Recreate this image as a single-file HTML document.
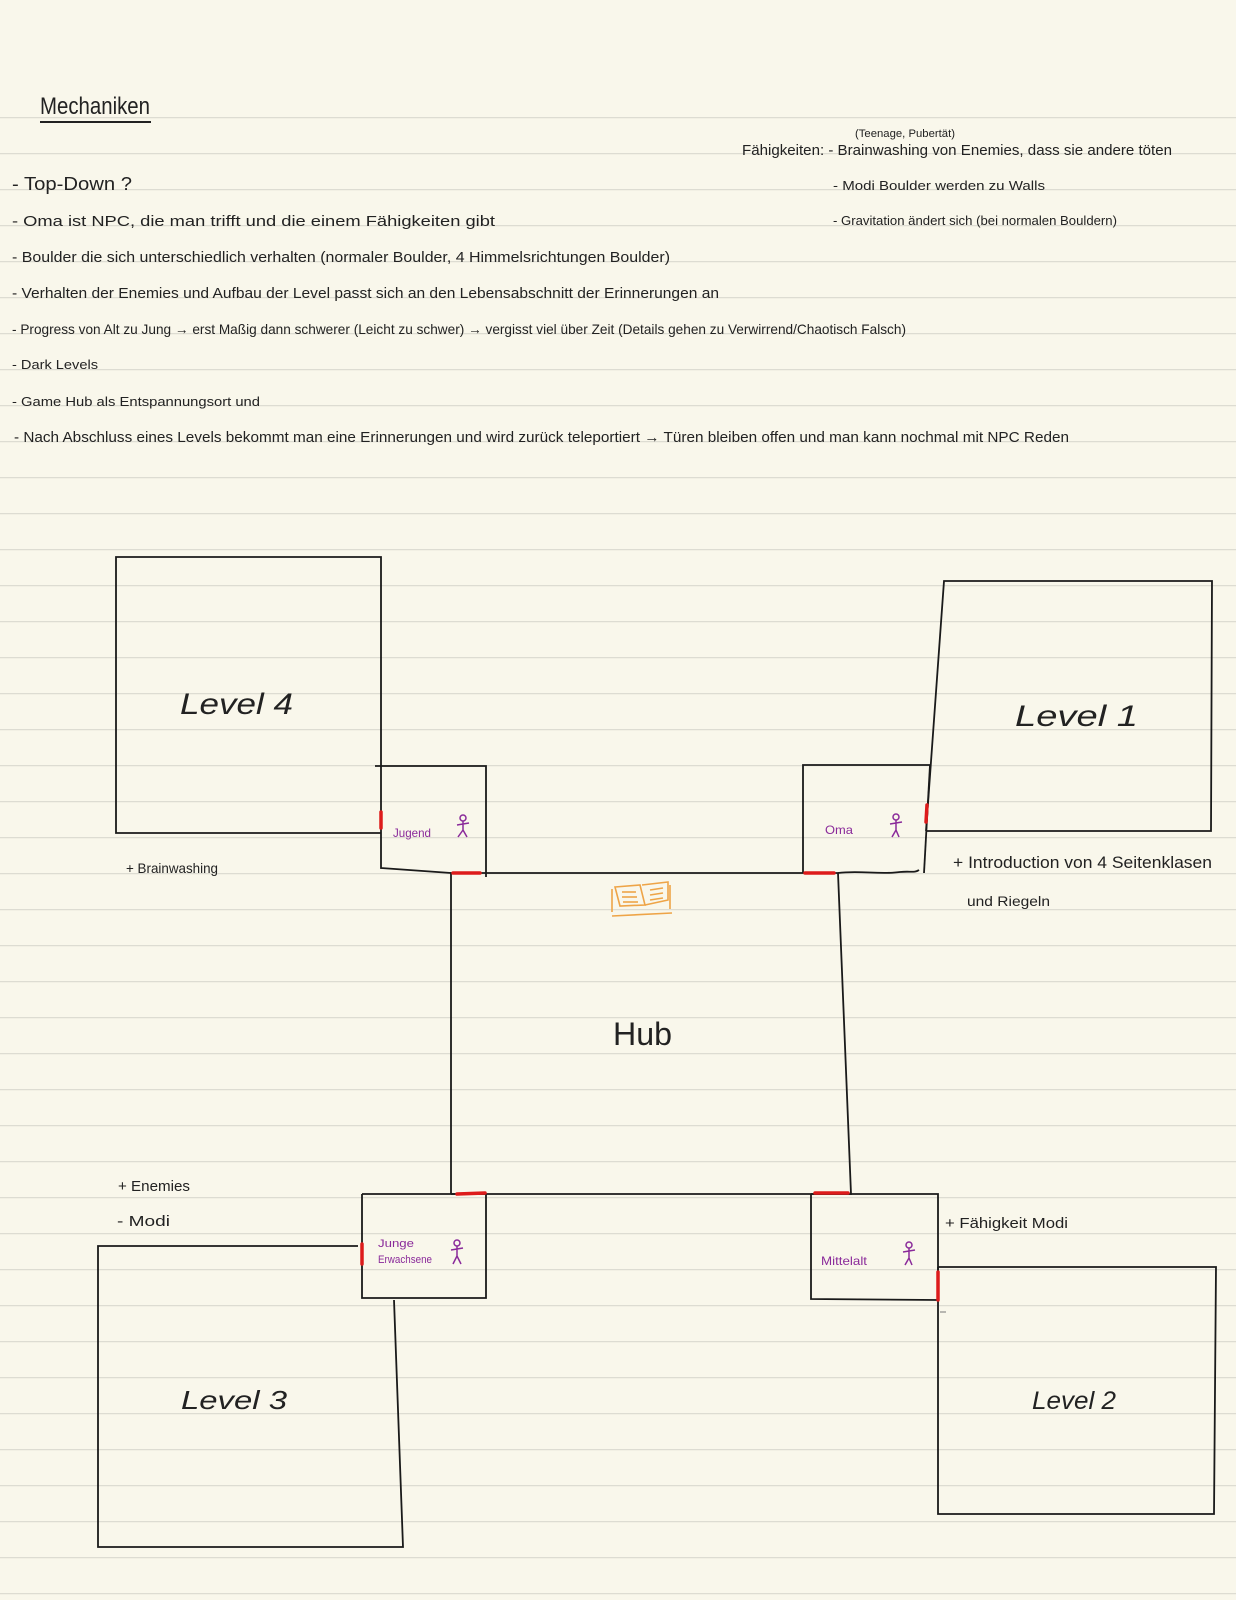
<!DOCTYPE html>
<html><head><meta charset="utf-8"><style>
html,body{margin:0;padding:0;background:#f9f7eb;}
svg{display:block}
text{font-family:"Liberation Sans",sans-serif;fill:#222;}
</style></head><body>
<svg width="1236" height="1600" viewBox="0 0 1236 1600" xmlns="http://www.w3.org/2000/svg">
<rect width="1236" height="1600" fill="#f9f7eb"/>
<g stroke="#dddcd2" stroke-width="1.3">
<line x1="0" y1="117.6" x2="1236" y2="117.6"/><line x1="0" y1="153.6" x2="1236" y2="153.6"/><line x1="0" y1="189.6" x2="1236" y2="189.6"/><line x1="0" y1="225.6" x2="1236" y2="225.6"/><line x1="0" y1="261.6" x2="1236" y2="261.6"/><line x1="0" y1="297.6" x2="1236" y2="297.6"/><line x1="0" y1="333.6" x2="1236" y2="333.6"/><line x1="0" y1="369.6" x2="1236" y2="369.6"/><line x1="0" y1="405.6" x2="1236" y2="405.6"/><line x1="0" y1="441.6" x2="1236" y2="441.6"/><line x1="0" y1="477.6" x2="1236" y2="477.6"/><line x1="0" y1="513.6" x2="1236" y2="513.6"/><line x1="0" y1="549.6" x2="1236" y2="549.6"/><line x1="0" y1="585.6" x2="1236" y2="585.6"/><line x1="0" y1="621.6" x2="1236" y2="621.6"/><line x1="0" y1="657.6" x2="1236" y2="657.6"/><line x1="0" y1="693.6" x2="1236" y2="693.6"/><line x1="0" y1="729.6" x2="1236" y2="729.6"/><line x1="0" y1="765.6" x2="1236" y2="765.6"/><line x1="0" y1="801.6" x2="1236" y2="801.6"/><line x1="0" y1="837.6" x2="1236" y2="837.6"/><line x1="0" y1="873.6" x2="1236" y2="873.6"/><line x1="0" y1="909.6" x2="1236" y2="909.6"/><line x1="0" y1="945.6" x2="1236" y2="945.6"/><line x1="0" y1="981.6" x2="1236" y2="981.6"/><line x1="0" y1="1017.6" x2="1236" y2="1017.6"/><line x1="0" y1="1053.6" x2="1236" y2="1053.6"/><line x1="0" y1="1089.6" x2="1236" y2="1089.6"/><line x1="0" y1="1125.6" x2="1236" y2="1125.6"/><line x1="0" y1="1161.6" x2="1236" y2="1161.6"/><line x1="0" y1="1197.6" x2="1236" y2="1197.6"/><line x1="0" y1="1233.6" x2="1236" y2="1233.6"/><line x1="0" y1="1269.6" x2="1236" y2="1269.6"/><line x1="0" y1="1305.6" x2="1236" y2="1305.6"/><line x1="0" y1="1341.6" x2="1236" y2="1341.6"/><line x1="0" y1="1377.6" x2="1236" y2="1377.6"/><line x1="0" y1="1413.6" x2="1236" y2="1413.6"/><line x1="0" y1="1449.6" x2="1236" y2="1449.6"/><line x1="0" y1="1485.6" x2="1236" y2="1485.6"/><line x1="0" y1="1521.6" x2="1236" y2="1521.6"/><line x1="0" y1="1557.6" x2="1236" y2="1557.6"/><line x1="0" y1="1593.6" x2="1236" y2="1593.6"/>
</g>

<!-- Header text -->
<text x="40" y="114" font-size="24" textLength="110" lengthAdjust="spacingAndGlyphs">Mechaniken</text>
<line x1="40" y1="122" x2="151" y2="122" stroke="#222" stroke-width="2"/>
<text x="855" y="137" font-size="11" textLength="100" lengthAdjust="spacingAndGlyphs">(Teenage, Pubertät)</text>
<text x="742" y="155" font-size="15" textLength="430" lengthAdjust="spacingAndGlyphs">Fähigkeiten: - Brainwashing von Enemies, dass sie andere töten</text>
<text x="833" y="190" font-size="13" textLength="212" lengthAdjust="spacingAndGlyphs">- Modi Boulder werden zu Walls</text>
<text x="833" y="225" font-size="13" textLength="284" lengthAdjust="spacingAndGlyphs">- Gravitation ändert sich (bei normalen Bouldern)</text>

<text x="12" y="190" font-size="18" textLength="120" lengthAdjust="spacingAndGlyphs">- Top-Down ?</text>
<text x="12" y="226" font-size="15" textLength="483" lengthAdjust="spacingAndGlyphs">- Oma ist NPC, die man trifft und die einem Fähigkeiten gibt</text>
<text x="12" y="262" font-size="15" textLength="658" lengthAdjust="spacingAndGlyphs">- Boulder die sich unterschiedlich verhalten (normaler Boulder, 4 Himmelsrichtungen Boulder)</text>
<text x="12" y="298" font-size="15" textLength="707" lengthAdjust="spacingAndGlyphs">- Verhalten der Enemies und Aufbau der Level passt sich an den Lebensabschnitt der Erinnerungen an</text>
<text x="12" y="334" font-size="14" textLength="894" lengthAdjust="spacingAndGlyphs">- Progress von Alt zu Jung → erst Maßig dann schwerer (Leicht zu schwer) → vergisst viel über Zeit (Details gehen zu Verwirrend/Chaotisch Falsch)</text>
<text x="12" y="369" font-size="13" textLength="86" lengthAdjust="spacingAndGlyphs">- Dark Levels</text>
<text x="12" y="406" font-size="13" textLength="248" lengthAdjust="spacingAndGlyphs">- Game Hub als Entspannungsort und</text>
<text x="14" y="442" font-size="15" textLength="1055" lengthAdjust="spacingAndGlyphs">- Nach Abschluss eines Levels bekommt man eine Erinnerungen und wird zurück teleportiert → Türen bleiben offen und man kann nochmal mit NPC Reden</text>

<!-- Diagram -->
<g fill="none" stroke="#1a1a1a" stroke-width="1.8">
<!-- Level 4 -->
<polyline points="381,833 116,833 116,557 381,557 381,766"/>
<!-- Jugend room -->
<polyline points="375,766 486,766 486,877"/>
<polyline points="381,766 381,868 451,873"/>
<!-- Level 1 -->
<polyline points="926,831 944,581 1212,581 1211,831 926,831"/>
<!-- Oma room -->
<polyline points="803,873 803,765 930,765"/>
<line x1="930" y1="765" x2="924" y2="873"/>
<path d="M838,873 C860,870 880,875 900,872 C910,871 915,873 919,870"/>
<!-- Hub -->
<polyline points="451,1194 451,873 838,873 851,1194 451,1194"/>
<!-- Junge Erwachsene room -->
<polyline points="362,1194 486,1194 486,1298 362,1298 362,1194"/>
<!-- Level 3 -->
<polyline points="358,1246 98,1246 98,1547 403,1547 394,1300"/>
<!-- Mittelalt room -->
<polyline points="811,1194 938,1194 938,1300 811,1299 811,1194"/>
<!-- Level 2 -->
<polyline points="938,1267 1216,1267 1214,1514 938,1514 938,1267"/>
</g>
<line x1="940" y1="1312" x2="946" y2="1312" stroke="#777" stroke-width="1"/>

<!-- red doors -->
<g stroke="#dd1b1b" stroke-width="3.5" stroke-linecap="round">
<line x1="381" y1="812" x2="381" y2="828"/>
<line x1="453" y1="873" x2="480" y2="873"/>
<line x1="927" y1="805" x2="926" y2="822"/>
<line x1="805" y1="873" x2="834" y2="873"/>
<line x1="457" y1="1194" x2="485" y2="1193"/>
<line x1="815" y1="1193" x2="848" y2="1193"/>
<line x1="362" y1="1244" x2="362" y2="1264"/>
<line x1="938" y1="1272" x2="938" y2="1300"/>
</g>

<!-- book icon -->
<g stroke="#eea447" stroke-width="1.6" fill="none">
<path d="M615,887 L640,885 L645,905 L620,906 Z"/>
<path d="M645,905 L668,900 L668,882 L642,885"/>
<line x1="612" y1="889" x2="612" y2="912"/>
<line x1="670" y1="885" x2="670" y2="909"/>
<line x1="612" y1="916" x2="672" y2="913"/>
<line x1="622" y1="892" x2="636" y2="892"/><line x1="622" y1="897" x2="637" y2="897"/><line x1="623" y1="902" x2="638" y2="902"/>
<line x1="650" y1="890" x2="663" y2="888"/><line x1="650" y1="895" x2="663" y2="893"/><line x1="650" y1="900" x2="663" y2="898"/>
</g>

<!-- labels -->
<text x="180" y="714" font-size="30" font-style="italic" textLength="113" lengthAdjust="spacingAndGlyphs">Level 4</text>
<text x="1015" y="726" font-size="30" font-style="italic" textLength="123" lengthAdjust="spacingAndGlyphs">Level 1</text>
<text x="181" y="1409" font-size="26" font-style="italic" textLength="106" lengthAdjust="spacingAndGlyphs">Level 3</text>
<text x="1032" y="1409" font-size="25" font-style="italic" textLength="84" lengthAdjust="spacingAndGlyphs">Level 2</text>
<text x="613" y="1045" font-size="32" textLength="59" lengthAdjust="spacingAndGlyphs">Hub</text>

<g fill="#8a2a9a" style="fill:#8a2a9a">
<text x="393" y="837" font-size="12" style="fill:#8a2a9a" textLength="38" lengthAdjust="spacingAndGlyphs">Jugend</text>
<text x="825" y="834" font-size="12" style="fill:#8a2a9a" textLength="28" lengthAdjust="spacingAndGlyphs">Oma</text>
<text x="378" y="1247" font-size="11" style="fill:#8a2a9a" textLength="36" lengthAdjust="spacingAndGlyphs">Junge</text>
<text x="378" y="1263" font-size="11" style="fill:#8a2a9a" textLength="54" lengthAdjust="spacingAndGlyphs">Erwachsene</text>
<text x="821" y="1265" font-size="12" style="fill:#8a2a9a" textLength="46" lengthAdjust="spacingAndGlyphs">Mittelalt</text>
</g>
<g stroke="#8a2a9a" stroke-width="1.5" fill="none">
<circle cx="463" cy="818" r="3"/><path d="M463,821 L463,830 M457,825 L469,823 M463,830 L458,837 M463,830 L467,837"/>
<circle cx="896" cy="817" r="3"/><path d="M896,820 L896,830 M890,824 L902,822 M896,830 L892,837 M896,830 L899,837"/>
<circle cx="457" cy="1243" r="3"/><path d="M457,1246 L457,1256 M451,1250 L463,1248 M457,1256 L453,1264 M457,1256 L461,1264"/>
<circle cx="909" cy="1245" r="3"/><path d="M909,1248 L909,1258 M903,1252 L915,1250 M909,1258 L905,1265 M909,1258 L912,1265"/>
</g>

<text x="126" y="873" font-size="14" textLength="92" lengthAdjust="spacingAndGlyphs">+ Brainwashing</text>
<text x="953" y="868" font-size="17" textLength="259" lengthAdjust="spacingAndGlyphs">+ Introduction von 4 Seitenklasen</text>
<text x="967" y="906" font-size="14" textLength="83" lengthAdjust="spacingAndGlyphs">und Riegeln</text>
<text x="118" y="1191" font-size="15" textLength="72" lengthAdjust="spacingAndGlyphs">+ Enemies</text>
<text x="117" y="1226" font-size="15" textLength="53" lengthAdjust="spacingAndGlyphs">- Modi</text>
<text x="945" y="1228" font-size="15" textLength="123" lengthAdjust="spacingAndGlyphs">+ Fähigkeit Modi</text>
</svg>
</body></html>
